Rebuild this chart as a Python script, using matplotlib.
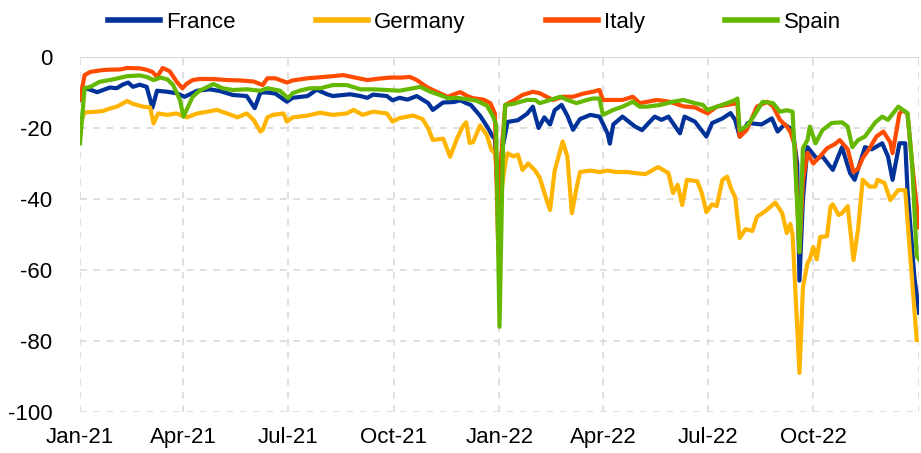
import numpy as np
import pandas as pd
import matplotlib
matplotlib.use('Agg')
import matplotlib.pyplot as plt

plt.rcParams['font.family'] = ['Liberation Sans', 'DejaVu Sans']
plt.rcParams['axes.unicode_minus'] = False

# days counted from 1 Jan 2021
fr_days = [0, 4, 6, 15, 26, 32, 37, 42, 46, 52, 58, 63, 67, 76, 84, 91, 102, 113, 122, 133,
           145, 152, 157, 163, 170, 180, 185, 198, 206, 215, 220, 235, 244, 250, 255, 267, 272,
           278, 285, 293, 298, 303, 307, 316, 325, 331, 336, 340, 348, 355, 359, 361, 365, 368,
           372, 381, 389, 394, 399, 404, 409, 413, 419, 424, 429, 435, 444, 452, 459, 461, 464,
           472, 483, 489, 500, 506, 512, 522, 526, 535, 545, 550, 559, 566, 570, 574, 581, 593,
           602, 607, 613, 620, 624, 626, 629, 633, 641, 646, 655, 663, 670, 674, 683, 689, 698,
           703, 707, 713, 718, 720, 726, 730]
fr_vals = [-12, -9, -8.9, -9.9, -8.6, -8.8, -7.8, -7.2, -8.4, -7.8, -8.4, -14.3, -9.5, -9.8,
           -10.2, -11.2, -9.5, -9.1, -9.6, -10.7, -11, -14.4, -10, -10, -10.3, -12.6, -11.5, -11,
           -9.2, -10.5, -11, -10.5, -11, -11.5, -10.6, -11, -12.2, -11.5, -12, -11, -12, -13, -14.9,
           -12.8, -12.7, -12.2, -13, -13.5, -16.5, -20, -22.4, -23, -48, -25, -18.3, -17.8, -16,
           -14, -20, -17, -19, -15, -13.5, -16.5, -20.5, -17.5, -16.3, -16.8, -21.5, -24.4, -19,
           -16.8, -19.6, -20.6, -16.8, -17.7, -16.8, -21.5, -16.8, -18.2, -22.4, -18.6, -17.3,
           -15.8, -17.7, -22.4, -18.6, -19, -17.3, -21, -19, -20.5, -30, -63, -40, -25.4, -28.6,
           -28, -31.8, -25.4, -32.7, -34.6, -25.4, -26, -24.3, -28, -34.6, -24.3, -24.3, -37.5,
           -62, -72]

de_days = [0, 4, 15, 20, 26, 32, 41, 46, 55, 61, 64, 68, 76, 84, 93, 102, 111, 119, 128, 137,
           145, 151, 157, 159, 163, 168, 177, 180, 185, 198, 209, 220, 232, 238, 246, 255, 267,
           272, 278, 290, 298, 303, 307, 316, 322, 328, 333, 336, 339, 342, 348, 354, 358, 361,
           365, 370, 372, 377, 381, 385, 390, 396, 400, 406, 409, 413, 420, 424, 428, 432, 435,
           444, 452, 459, 467, 476, 483, 492, 503, 512, 516, 520, 524, 528, 537, 541, 545, 550,
           554, 559, 563, 567, 570, 574, 579, 585, 589, 596, 605, 611, 615, 618, 620, 626, 629,
           633, 635, 638, 641, 644, 650, 653, 655, 660, 663, 668, 673, 677, 681, 687, 692, 694,
           700, 705, 712, 718, 724, 728]
de_vals = [-19, -15.6, -15.4, -15.2, -14.5, -14, -12.4, -13.2, -14, -14.2, -18.7, -15.9, -16.3,
           -15.9, -17, -15.9, -15.4, -14.9, -15.9, -17, -15.9, -17.7, -21, -20.5, -17, -16.3,
           -15.9, -18.2, -17, -16.5, -15.7, -16.3, -15.9, -14.9, -16.3, -15.4, -15.9, -18.2,
           -17.2, -16.5, -17.5, -20.1, -23.4, -23, -28.1, -23, -19.6, -18.4, -24.2, -24, -19.3,
           -22, -26.2, -27, -42, -30, -27.1, -28, -27.5, -31.8, -30, -32, -34, -40.3, -43.1, -32,
           -23.8, -28, -44, -37, -32.4, -32, -32.4, -32, -32.4, -32.4, -32.7, -33, -31, -32.7,
           -38.3, -36, -41.7, -34.6, -35, -38.3, -43.7, -41.5, -42, -34.6, -33.7, -37.5, -39.4,
           -51, -48.5, -49, -45, -43.5, -41, -44, -49.6, -47, -50, -89, -65, -58, -57, -53.5, -57,
           -50.7, -50.5, -42.2, -41.5, -44.5, -44, -42, -57.2, -48.5, -34.6, -36.5, -36.5, -34.6,
           -35.5, -40.3, -37.5, -37.5, -63, -79.7]

it_days = [0, 4, 9, 17, 23, 35, 41, 52, 58, 63, 67, 72, 78, 84, 89, 93, 98, 104, 116, 128, 139,
           151, 159, 163, 170, 180, 185, 198, 209, 220, 229, 238, 250, 260, 270, 280, 287, 293,
           302, 307, 313, 320, 328, 331, 337, 342, 351, 357, 361, 364, 366, 370, 377, 385, 394,
           400, 406, 412, 420, 429, 438, 446, 452, 455, 464, 472, 481, 487, 502, 513, 525, 535,
           546, 554, 563, 572, 574, 580, 589, 598, 603, 609, 615, 618, 622, 626, 629, 633, 638,
           644, 650, 657, 661, 668, 673, 677, 681, 687, 693, 699, 705, 707, 713, 716, 720, 724,
           730]
it_vals = [-12, -5.1, -4.2, -3.8, -3.6, -3.5, -3.1, -3.2, -3.6, -4.2, -5.6, -3.1, -4, -6.9, -8.8,
           -7.5, -6.5, -6.2, -6.2, -6.5, -6.6, -6.9, -7.9, -6, -6, -7.2, -6.6, -6, -5.7, -5.4,
           -5.1, -5.7, -6.5, -6.1, -5.8, -5.8, -5.6, -6.5, -8.5, -9.3, -10.2, -11.2, -10.2, -9.9,
           -11, -11.6, -12, -13, -15.9, -55, -30, -13.5, -12.3, -10.7, -9.8, -10.2, -11.2, -12.1,
           -11.2, -11.2, -10.3, -9.8, -9.3, -12.1, -12.1, -12.1, -11.2, -13, -12.1, -12.6, -13.9,
           -14.2, -15.9, -14, -13.5, -13, -22.5, -20.6, -14, -12.6, -13.9, -17.7, -19.6, -21, -25,
           -55, -35, -27, -30, -28, -25.7, -24.5, -23.4, -26, -32.4, -31.5, -28.5, -25.7, -22.4,
           -21, -24, -27.1, -15.9, -15, -16, -30, -48]

es_days = [0, 4, 9, 17, 29, 41, 52, 58, 64, 70, 76, 81, 87, 90, 94, 98, 104, 111, 116, 124, 133,
           145, 157, 163, 174, 181, 185, 191, 200, 209, 220, 232, 244, 255, 267, 278, 290, 296,
           305, 313, 320, 328, 337, 345, 354, 359, 362, 365, 368, 370, 377, 389, 396, 400, 409,
           418, 424, 432, 441, 446, 452, 455, 464, 472, 481, 487, 493, 505, 516, 525, 535, 542,
           546, 554, 563, 570, 572, 574, 580, 586, 594, 603, 609, 615, 620, 626, 629, 633, 635,
           640, 646, 654, 663, 668, 672, 677, 683, 692, 698, 703, 712, 720, 724, 728, 730]
es_vals = [-24.3, -8.8, -8.4, -7, -6.3, -5.4, -5.2, -5.6, -6.5, -5.8, -6.3, -7.9, -12.1, -16.8,
           -14, -11.2, -9.5, -8.4, -7.6, -8.8, -9.3, -9.1, -9.5, -8.8, -9.5, -11.6, -10.2, -9.5,
           -8.8, -8.8, -7.9, -7.9, -9.1, -9.1, -9.3, -9.5, -8.8, -8.4, -9.8, -10.7, -11.6, -11.5,
           -11.9, -12.3, -13.7, -16.5, -19, -76, -25, -13.5, -13.2, -12.1, -12.1, -13, -12.1,
           -11.2, -12.1, -13, -12.1, -11.7, -11.7, -16.3, -14.9, -14, -12.6, -14, -14, -13.5,
           -12.6, -12.1, -13, -13.5, -14.9, -14, -13, -12.1, -11.7, -20.6, -19.5, -16.8, -12.6,
           -13, -15.4, -15, -15.4, -55, -25.7, -23.4, -19.6, -24.3, -20.6, -18.6, -18.4, -19.6,
           -25.4, -23.4, -22.4, -18.4, -16.8, -17.7, -14, -15.8, -30, -56, -57]

names = ['France', 'Germany', 'Italy', 'Spain']
colors = ['#003299', '#FFB400', '#FF4B00', '#65B800']
series = [(fr_days, fr_vals), (de_days, de_vals), (it_days, it_vals), (es_days, es_vals)]

start = pd.Timestamp('2021-01-01')

fig = plt.figure(figsize=(9.21, 4.53), dpi=100)
ax = fig.add_axes([80 / 921, 1 - 412 / 453, 839 / 921, 355 / 453])

for name, col, (d, v) in zip(names, colors, series):
    dates = start + pd.to_timedelta(d, unit='D')
    ax.plot(dates, v, color=col, lw=3.0, label=name, solid_joinstyle='round')

ax.set_ylim(-100, 0)
ax.set_yticks(np.arange(-100, 1, 20))
ax.set_xlim(start, pd.Timestamp('2023-01-01'))
ticks = pd.date_range('2021-01-01', '2023-01-01', freq='QS')
ax.set_xticks(ticks)
ax.set_xticklabels([t.strftime('%b-%y') if t.year < 2023 else '' for t in ticks])

grid_col = '#d9d9d9'
ax.grid(True, color=grid_col, lw=1.2, ls=(0, (4, 4)))
ax.axhline(0, color=grid_col, lw=1.5, zorder=1)
ax.set_axisbelow(True)
for s in ax.spines.values():
    s.set_visible(False)
ax.tick_params(length=0, labelsize=16, pad=11)
ax.tick_params(axis='y', pad=20)

leg = fig.legend(loc='center', bbox_to_anchor=(0.515, 0.95), ncol=4, frameon=False,
                 fontsize=16, handlelength=2.35, handletextpad=0.28, columnspacing=3.6)
for line in leg.get_lines():
    line.set_linewidth(4)

fig.savefig('out.png', dpi=100)
